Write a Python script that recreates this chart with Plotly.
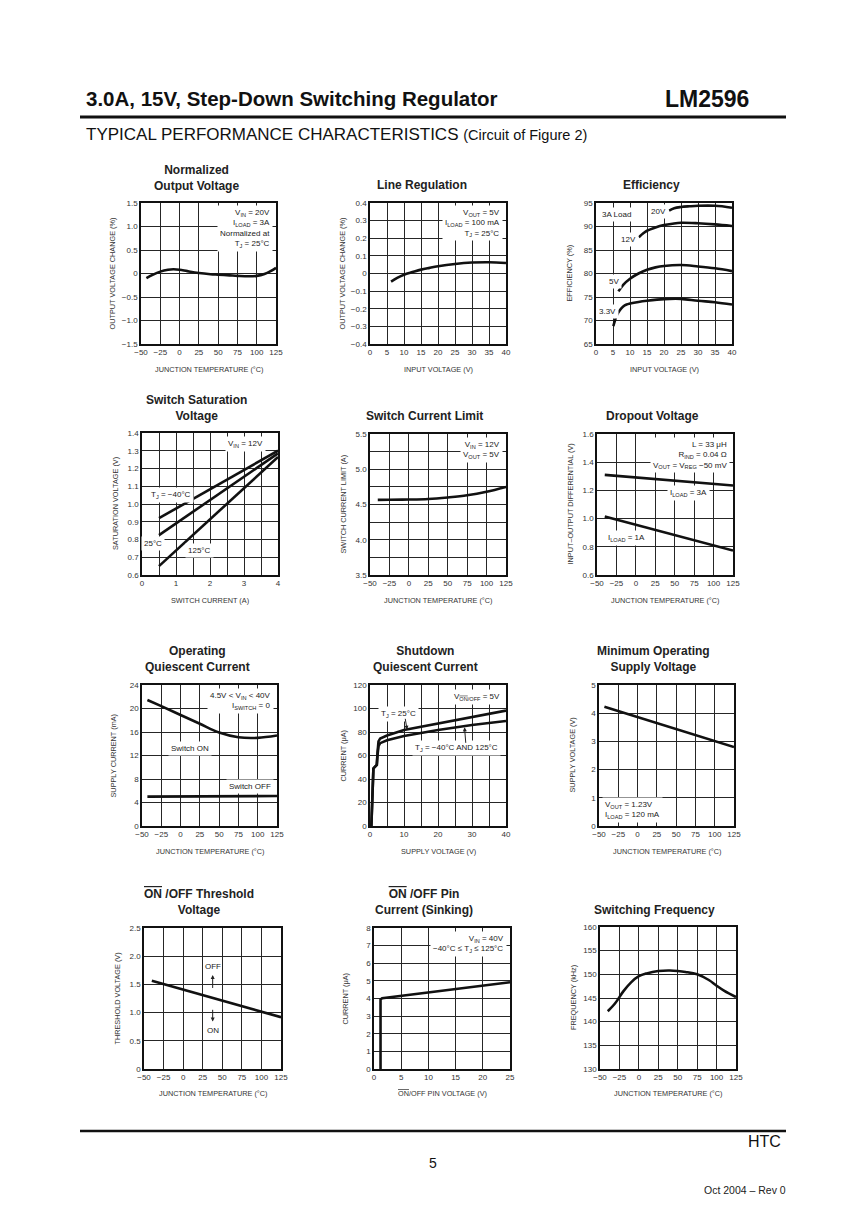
import plotly.graph_objects as go

W, H = 868, 1228
OFF = 8  # browser body margin
FW, FH = W - OFF, H - OFF

# ---------------- data ----------------
# 1 Normalized Output Voltage
nov_temp = [-43, -35, -25, -15, -8, 0, 10, 25, 40, 50, 65, 75, 90, 100, 110, 118, 125]
nov_change = [-0.10, -0.03, 0.04, 0.08, 0.09, 0.08, 0.05, 0.01, -0.015, -0.025, -0.04, -0.05, -0.06, -0.05, -0.01, 0.05, 0.12]

# 2 Line Regulation
lr_vin = [6.2, 8, 10, 12.5, 15, 17.5, 20, 25, 30, 35, 40]
lr_change = [-0.046, -0.025, -0.007, 0.008, 0.022, 0.032, 0.041, 0.054, 0.062, 0.064, 0.060]

# 3 Efficiency
eff20_vin = [21.5, 23, 25, 27.5, 30, 35, 40]
eff20 = [93.4, 93.9, 94.15, 94.3, 94.4, 94.4, 94.0]
eff12_vin = [12.6, 14, 15, 17.5, 20, 22.5, 25, 30, 35, 40]
eff12 = [87.7, 88.6, 89.1, 89.8, 90.3, 90.6, 90.8, 90.7, 90.45, 90.1]
eff5_vin = [6.6, 8, 10, 12.5, 15, 17.5, 20, 25, 30, 35, 40]
eff5 = [76.2, 77.6, 78.9, 80.0, 80.8, 81.3, 81.6, 81.8, 81.5, 81.1, 80.5]
eff33_vin = [5.1, 5.5, 6, 7, 8, 9, 10, 12.5, 15, 20, 25, 30, 35, 40]
eff33 = [68.8, 69.8, 70.9, 72.2, 73.0, 73.4, 73.6, 73.95, 74.2, 74.55, 74.6, 74.2, 73.9, 73.4]

# 4 Switch Saturation Voltage
sat_current = [0.5, 4.0]
sat_m40 = [0.92, 1.30]
sat_25 = [0.825, 1.285]
sat_125 = [0.65, 1.265]

# 5 Switch Current Limit
cl_temp = [-40, -25, 0, 25, 50, 75, 100, 125]
cl_limit = [4.565, 4.567, 4.57, 4.578, 4.60, 4.63, 4.68, 4.75]

# 6 Dropout Voltage
do_temp = [-40, 125]
do_3a = [1.31, 1.235]
do_1a = [1.015, 0.773]

# 7 Operating Quiescent Current
oq_temp = [-43, -25, 0, 25, 50, 75, 100, 125]
oq_on = [21.45, 20.4, 18.9, 17.4, 15.9, 15.1, 15.0, 15.4]
oq_off_temp = [-43, 125]
oq_off = [5.0, 5.1]

# 8 Shutdown Quiescent Current
sd_vin = [0.4, 0.6, 0.8, 1.0, 1.5, 2.0, 2.2, 2.5, 3, 4, 5, 10, 20, 30, 40]
sd_25 = [0, 25, 45, 49, 50.5, 52, 62, 72, 74.5, 76, 77, 81.7, 87.4, 93, 98.2]
sd_m40 = [0, 25, 45, 49, 50.5, 52, 60, 68, 70.5, 72, 73, 76.6, 81.7, 86, 89.4]

# 9 Minimum Operating Supply Voltage
mo_temp = [-43, 125]
mo_volt = [4.23, 2.80]

# 10 ON/OFF Threshold Voltage
th_temp = [-40, 125]
th_volt = [1.565, 0.918]

# 11 ON/OFF Pin Current
pc_volt = [1.2, 1.2, 1.5, 25]
pc_curr = [0, 3.95, 4.02, 4.92]

# 12 Switching Frequency
fr_temp = [-40, -30, -20, -10, 0, 10, 25, 40, 50, 60, 75, 90, 100, 110, 125]
fr_freq = [142.2, 144.0, 146.4, 148.3, 149.6, 150.2, 150.7, 150.8, 150.7, 150.5, 150.0, 148.8, 147.6, 146.5, 145.2]

# ---------------- tick labels ----------------
temp_tv = [-50, -25, 0, 25, 50, 75, 100, 125]
temp_tt = ["\u221250", "\u221225", "0", "25", "50", "75", "100", "125"]
v40_tv = [0, 5, 10, 15, 20, 25, 30, 35, 40]
v40_tt = ["0", "5", "10", "15", "20", "25", "30", "35", "40"]
v40b_tt = ["0", "", "10", "", "20", "", "30", "", "40"]
nov_tv = [-1.5, -1.0, -0.5, 0, 0.5, 1.0, 1.5]
nov_tt = ["\u22121.5", "\u22121.0", "\u22120.5", "0", "0.5", "1.0", "1.5"]
lr_tv = [-0.4, -0.3, -0.2, -0.1, 0, 0.1, 0.2, 0.3, 0.4]
lr_tt = ["\u22120.4", "\u22120.3", "\u22120.2", "\u22120.1", "0", "0.1", "0.2", "0.3", "0.4"]
eff_tv = [65, 70, 75, 80, 85, 90, 95]
eff_tt = ["65", "70", "75", "80", "85", "90", "95"]
sat_x_tv = [0, 0.5, 1, 1.5, 2, 2.5, 3, 3.5, 4]
sat_x_tt = ["0", "", "1", "", "2", "", "3", "", "4"]
sat_y_tv = [0.6, 0.7, 0.8, 0.9, 1.0, 1.1, 1.2, 1.3, 1.4]
sat_y_tt = ["0.6", "0.7", "0.8", "0.9", "1.0", "1.1", "1.2", "1.3", "1.4"]
cl_tv = [3.5, 3.75, 4.0, 4.25, 4.5, 4.75, 5.0, 5.25, 5.5]
cl_tt = ["3.5", "", "4.0", "", "4.5", "", "5.0", "", "5.5"]
do_tv = [0.6, 0.8, 1.0, 1.2, 1.4, 1.6]
do_tt = ["0.6", "0.8", "1.0", "1.2", "1.4", "1.6"]
oq_tv = [0, 4, 8, 12, 16, 20, 24]
oq_tt = ["0", "4", "8", "12", "16", "20", "24"]
sd_tv = [0, 20, 40, 60, 80, 100, 120]
sd_tt = ["0", "20", "40", "60", "80", "100", "120"]
mo_tv = [0, 1, 2, 3, 4, 5]
mo_tt = ["0", "1", "2", "3", "4", "5"]
th_tv = [0, 0.5, 1.0, 1.5, 2.0, 2.5]
th_tt = ["0", "0.5", "1.0", "1.5", "2.0", "2.5"]
pc_x_tv = [0, 5, 10, 15, 20, 25]
pc_x_tt = ["0", "5", "10", "15", "20", "25"]
pc_y_tv = [0, 1, 2, 3, 4, 5, 6, 7, 8]
pc_y_tt = ["0", "1", "2", "3", "4", "5", "6", "7", "8"]
fr_tv = [130, 135, 140, 145, 150, 155, 160]
fr_tt = ["130", "135", "140", "145", "150", "155", "160"]

OVL = '<span style="text-decoration:overline">ON</span>'

# ---------------- layout config ----------------
SMALL = "Liberation Sans"
GRID = "#262626"

panels = [
    dict(box=(141, 276, 203, 344), title="Normalized<br>Output Voltage", tx=196, ty=178,
         xl="JUNCTION TEMPERATURE (\u00b0C)", yl="OUTPUT VOLTAGE CHANGE (%)", ylx=112, xly=370,
         xr=[-50, 125], yr=[-1.5, 1.5], xtv=temp_tv, xtt=temp_tt, ytv=nov_tv, ytt=nov_tt),
    dict(box=(370, 506, 203, 344), title="Line Regulation", tx=422, ty=185,
         xl="INPUT VOLTAGE (V)", yl="OUTPUT VOLTAGE CHANGE (%)", ylx=342, xly=370,
         xr=[0, 40], yr=[-0.4, 0.4], xtv=v40_tv, xtt=v40_tt, ytv=lr_tv, ytt=lr_tt),
    dict(box=(596, 732, 203, 344), title="Efficiency", tx=651, ty=185,
         xl="INPUT VOLTAGE (V)", yl="EFFICIENCY (%)", ylx=569, xly=370,
         xr=[0, 40], yr=[65, 95], xtv=v40_tv, xtt=v40_tt, ytv=eff_tv, ytt=eff_tt),
    dict(box=(142, 278, 433, 575), title="Switch Saturation<br>Voltage", tx=196, ty=408,
         xl="SWITCH CURRENT (A)", yl="SATURATION VOLTAGE (V)", ylx=115, xly=601,
         xr=[0, 4], yr=[0.6, 1.4], xtv=sat_x_tv, xtt=sat_x_tt, ytv=sat_y_tv, ytt=sat_y_tt),
    dict(box=(370, 506, 434, 575), title="Switch Current Limit", tx=424, ty=416,
         xl="JUNCTION TEMPERATURE (\u00b0C)", yl="SWITCH CURRENT LIMIT (A)", ylx=343, xly=601,
         xr=[-50, 125], yr=[3.5, 5.5], xtv=temp_tv, xtt=temp_tt, ytv=cl_tv, ytt=cl_tt),
    dict(box=(597, 733, 434, 575), title="Dropout Voltage", tx=652, ty=416,
         xl="JUNCTION TEMPERATURE (\u00b0C)", yl="INPUT\u2013OUTPUT DIFFERENTIAL (V)", ylx=570, xly=601,
         xr=[-50, 125], yr=[0.6, 1.6], xtv=temp_tv, xtt=temp_tt, ytv=do_tv, ytt=do_tt),
    dict(box=(142, 277, 685, 826), title="Operating<br>Quiescent Current", tx=197, ty=659,
         xl="JUNCTION TEMPERATURE (\u00b0C)", yl="SUPPLY CURRENT (mA)", ylx=113, xly=851,
         xr=[-50, 125], yr=[0, 24], xtv=temp_tv, xtt=temp_tt, ytv=oq_tv, ytt=oq_tt),
    dict(box=(370, 506, 685, 826), title="Shutdown<br>Quiescent Current", tx=425, ty=659,
         xl="SUPPLY VOLTAGE (V)", yl="CURRENT (\u03bcA)", ylx=343, xly=851,
         xr=[0, 40], yr=[0, 120], xtv=v40_tv, xtt=v40b_tt, ytv=sd_tv, ytt=sd_tt),
    dict(box=(599, 734, 685, 826), title="Minimum Operating<br>Supply Voltage", tx=653, ty=659,
         xl="JUNCTION TEMPERATURE (\u00b0C)", yl="SUPPLY VOLTAGE (V)", ylx=572, xly=851,
         xr=[-50, 125], yr=[0, 5], xtv=temp_tv, xtt=temp_tt, ytv=mo_tv, ytt=mo_tt),
    dict(box=(144, 281, 928, 1069), title=OVL + " /OFF Threshold<br>Voltage", tx=199, ty=902,
         xl="JUNCTION TEMPERATURE (\u00b0C)", yl="THRESHOLD VOLTAGE (V)", ylx=117, xly=1093,
         xr=[-50, 125], yr=[0, 2.5], xtv=temp_tv, xtt=temp_tt, ytv=th_tv, ytt=th_tt),
    dict(box=(374, 510, 928, 1069), title=OVL + " /OFF Pin<br>Current (Sinking)", tx=424, ty=902,
         xl=OVL + "/OFF PIN VOLTAGE (V)", yl="CURRENT (\u03bcA)", ylx=345, xly=1093,
         xr=[0, 25], yr=[0, 8], xtv=pc_x_tv, xtt=pc_x_tt, ytv=pc_y_tv, ytt=pc_y_tt),
    dict(box=(600, 736, 927, 1069), title="Switching Frequency", tx=654, ty=910,
         xl="JUNCTION TEMPERATURE (\u00b0C)", yl="FREQUENCY (kHz)", ylx=573, xly=1093,
         xr=[-50, 125], yr=[130, 160], xtv=temp_tv, xtt=temp_tt, ytv=fr_tv, ytt=fr_tt),
]

fig = go.Figure()
annotations = []
shapes = []


def px(x):
    return (x - OFF) / FW


def py(y):
    return 1 - (y - OFF) / FH


def names(i):
    s = "" if i == 1 else str(i)
    return "x" + s, "y" + s, "xaxis" + s, "yaxis" + s


layout_axes = {}
for i, p in enumerate(panels, start=1):
    xn, yn, xk, yk = names(i)
    l, r, t, b = p["box"]
    common = dict(showgrid=True, gridcolor=GRID, gridwidth=1.3, showline=True, mirror=True,
                  linecolor="#111", linewidth=1.6, ticks="", zeroline=False, fixedrange=True,
                  automargin=False,
                  tickfont=dict(family=SMALL, size=8, color="#333"), tickmode="array")
    layout_axes[xk] = dict(domain=[px(l), px(r)], range=p["xr"], anchor=yn,
                           tickvals=p["xtv"], ticktext=p["xtt"], **common)
    layout_axes[yk] = dict(domain=[py(b), py(t)], range=p["yr"], anchor=xn,
                           tickvals=p["ytv"], ticktext=p["ytt"], **common)
    annotations.append(dict(x=px(p["tx"]), y=py(p["ty"]), xref="paper", yref="paper",
                            text="<b>" + p["title"] + "</b>", showarrow=False,
                            font=dict(family="Liberation Sans", size=12, color="#222"),
                            xanchor="center", yanchor="middle"))
    annotations.append(dict(x=px((l + r) / 2), y=py(p["xly"]), xref="paper", yref="paper",
                            text=p["xl"], showarrow=False,
                            font=dict(family=SMALL, size=7.3, color="#333"),
                            xanchor="center", yanchor="middle"))
    annotations.append(dict(x=px(p["ylx"]), y=py((t + b) / 2), xref="paper", yref="paper",
                            text=p["yl"], showarrow=False, textangle=-90,
                            font=dict(family=SMALL, size=7.3, color="#333"),
                            xanchor="center", yanchor="middle"))

fig.update_layout(**layout_axes)


def curve(i, x, y, shape="spline"):
    xn, yn, _, _ = names(i)
    fig.add_trace(go.Scatter(x=x, y=y, mode="lines", xaxis=xn, yaxis=yn,
                             line=dict(color="#111", width=2.6, shape=shape),
                             showlegend=False, hoverinfo="skip"))


curve(1, nov_temp, nov_change)
curve(2, lr_vin, lr_change)
curve(3, eff20_vin, eff20)
curve(3, eff12_vin, eff12)
curve(3, eff5_vin, eff5)
curve(3, eff33_vin, eff33)
curve(4, sat_current, sat_m40, "linear")
curve(4, sat_current, sat_25, "linear")
curve(4, sat_current, sat_125, "linear")
curve(5, cl_temp, cl_limit)
curve(6, do_temp, do_3a, "linear")
curve(6, do_temp, do_1a, "linear")
curve(7, oq_temp, oq_on)
curve(7, oq_off_temp, oq_off, "linear")
curve(8, sd_vin, sd_25, "linear")
curve(8, sd_vin, sd_m40, "linear")
curve(9, mo_temp, mo_volt, "linear")
curve(10, th_temp, th_volt, "linear")
curve(11, pc_volt, pc_curr, "linear")
curve(12, fr_temp, fr_freq)


def note(i, x, y, text, xanchor="center", yanchor="middle", align="center", xshift=0, yshift=0, bg="white"):
    xn, yn, _, _ = names(i)
    annotations.append(dict(x=x, y=y, xref=xn, yref=yn, text=text, showarrow=False,
                            xanchor=xanchor, yanchor=yanchor, align=align, xshift=xshift, yshift=yshift,
                            bgcolor=bg, borderpad=2,
                            font=dict(family=SMALL, size=8, color="#222")))


def arrow(i, x0, y0, x1, y1):
    xn, yn, _, _ = names(i)
    annotations.append(dict(x=x1, y=y1, ax=x0, ay=y0, xref=xn, yref=yn, axref=xn, ayref=yn,
                            text="", showarrow=True, arrowhead=2, arrowsize=0.8, arrowwidth=1,
                            arrowcolor="#222"))


note(1, 125, 1.5, "V<sub>IN</sub> = 20V<br>I<sub>LOAD</sub> = 3A<br>Normalized at<br>T<sub>J</sub> = 25\u00b0C",
     "right", "top", "right", -3, -2)
note(2, 40, 0.4, "V<sub>OUT</sub> = 5V<br>I<sub>LOAD</sub> = 100 mA<br>T<sub>J</sub> = 25\u00b0C",
     "right", "top", "right", -3, -2)
note(3, 5.9, 92.6, "3A Load")
note(3, 18.3, 93.1, "20V")
note(3, 9.6, 87.2, "12V")
note(3, 5.4, 78.3, "5V")
note(3, 3.4, 72.0, "3.3V")
note(4, 4, 1.4, "V<sub>IN</sub> = 12V", "right", "top", "right", -12, -3)
note(4, 0.85, 1.05, "T<sub>J</sub> = \u221240\u00b0C")
note(4, 0.32, 0.775, "25\u00b0C")
note(4, 1.7, 0.74, "125\u00b0C")
note(5, 125, 5.5, "V<sub>IN</sub> = 12V<br>V<sub>OUT</sub> = 5V", "right", "top", "right", -3, -3)
note(6, 125, 1.6, "L = 33 \u03bcH<br>R<sub>IND</sub> = 0.04 \u03a9<br>V<sub>OUT</sub> = V<sub>REG</sub> \u221250 mV",
     "right", "top", "right", -3, -3)
note(6, 68, 1.18, "I<sub>LOAD</sub> = 3A")
note(6, -12, 0.86, "I<sub>LOAD</sub> = 1A")
note(7, 125, 24, "4.5V < V<sub>IN</sub> < 40V<br>I<sub>SWITCH</sub> = 0", "right", "top", "right", -3, -3)
note(7, 12, 13.2, "Switch ON")
note(7, 90, 6.7, "Switch OFF")
note(8, 40, 120, "V<sub>" + OVL + "/OFF</sub> = 5V", "right", "top", "right", -3, -4)
note(8, 8.3, 95.3, "T<sub>J</sub> = 25\u00b0C")
arrow(8, 10.3, 92.5, 10.9, 82.0)
note(8, 25.5, 66, "T<sub>J</sub> = \u221240\u00b0C AND 125\u00b0C")
arrow(8, 28.2, 69.5, 27.8, 84.0)
note(9, -50, 0, "V<sub>OUT</sub> = 1.23V<br>I<sub>LOAD</sub> = 120 mA", "left", "bottom", "left", 3, 3)
note(10, 37.7, 1.81, "OFF", bg="rgba(0,0,0,0)")
arrow(10, 37.7, 1.41, 37.7, 1.665)
note(10, 37.7, 0.68, "ON", bg="rgba(0,0,0,0)")
arrow(10, 37.7, 1.076, 37.7, 0.841)
note(11, 25, 8, "V<sub>IN</sub> = 40V<br>\u221240\u00b0C \u2264 T<sub>J</sub> \u2264 125\u00b0C", "right", "top", "right", -3, -3)

# ---------------- page header / footer ----------------
annotations.append(dict(x=px(84), y=py(99), xref="paper", yref="paper", xanchor="left", yanchor="middle",
                        text="<b>3.0A, 15V, Step-Down Switching Regulator</b>", showarrow=False,
                        font=dict(family="Liberation Sans", size=20.5, color="#111")))
annotations.append(dict(x=px(751), y=py(99), xref="paper", yref="paper", xanchor="right", yanchor="middle",
                        text="<b>LM2596</b>", showarrow=False,
                        font=dict(family="Liberation Sans", size=23, color="#111")))
annotations.append(dict(x=px(84), y=py(134), xref="paper", yref="paper", xanchor="left", yanchor="middle",
                        text="TYPICAL PERFORMANCE CHARACTERISTICS <span style='font-size:14.5px'>(Circuit of Figure 2)</span>",
                        showarrow=False, font=dict(family="Liberation Sans", size=17, color="#111")))
annotations.append(dict(x=px(783), y=py(1141), xref="paper", yref="paper", xanchor="right", yanchor="middle",
                        text="HTC", showarrow=False, font=dict(family="Liberation Sans", size=16, color="#111")))
annotations.append(dict(x=px(433), y=py(1163), xref="paper", yref="paper", xanchor="center", yanchor="middle",
                        text="5", showarrow=False, font=dict(family="Liberation Sans", size=14, color="#111")))
annotations.append(dict(x=px(788), y=py(1190), xref="paper", yref="paper", xanchor="right", yanchor="middle",
                        text="Oct 2004 \u2013 Rev 0", showarrow=False,
                        font=dict(family="Liberation Sans", size=10.5, color="#222")))

shapes.append(dict(type="line", xref="paper", yref="paper", x0=px(80), x1=px(786), y0=py(117), y1=py(117),
                   line=dict(color="#111", width=3)))
shapes.append(dict(type="line", xref="paper", yref="paper", x0=px(80), x1=px(786), y0=py(1131), y1=py(1131),
                   line=dict(color="#111", width=2.5)))

fig.update_layout(width=FW, height=FH, margin=dict(l=0, r=0, t=0, b=0, pad=0, autoexpand=False),
                  paper_bgcolor="white", plot_bgcolor="white",
                  annotations=annotations, shapes=shapes, showlegend=False)

fig.write_html("out.html")
